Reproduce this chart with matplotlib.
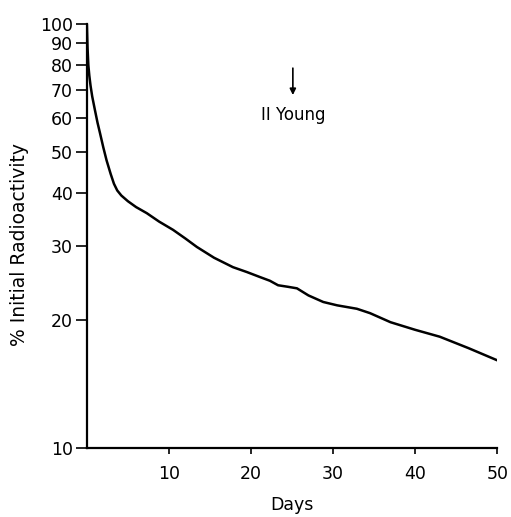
import matplotlib
matplotlib.use("Agg")
import matplotlib.pyplot as plt
from matplotlib.ticker import FixedLocator, NullLocator

# Decay of radioactivity over time
days = [0, 0.08, 0.18, 0.3, 0.45, 0.65, 0.98, 1.3, 1.6, 2.0, 2.4, 2.9,
        3.3, 3.7, 4.2, 5.0, 6.0, 7.3, 8.8, 10.5, 12.0, 13.4, 15.5, 17.8,
        19.5, 21.1, 22.3, 23.3, 24.5, 25.6, 27.0, 28.8, 30.5, 32.9, 34.5,
        37.0, 40.0, 43.0, 46.5, 50.0]
activity = [100, 88, 80, 75.5, 71.5, 67.5, 62.7, 58.5, 55.3, 51.2, 47.7, 44.3,
            42.0, 40.5, 39.4, 38.2, 37.0, 35.8, 34.2, 32.7, 31.2, 29.8, 28.1, 26.7,
            26.0, 25.3, 24.8, 24.2, 24.0, 23.8, 22.9, 22.1, 21.7, 21.3, 20.8,
            19.8, 19.0, 18.3, 17.2, 16.1]

y_ticks = [10, 20, 30, 40, 50, 60, 70, 80, 90, 100]
x_ticks = [10, 20, 30, 40, 50]
event_day = 25.1
event_label = "II Young"

fig = plt.figure(figsize=(5.11, 5.17), dpi=100)
ax = fig.add_axes([0.170, 0.1335, 0.803, 0.820])

ax.plot(days, activity, color="black", lw=1.8, solid_capstyle="round",
        solid_joinstyle="round")

ax.set_yscale("log")
ax.set_xlim(0, 50)
ax.set_ylim(10, 100)
ax.yaxis.set_major_locator(FixedLocator(y_ticks))
ax.yaxis.set_minor_locator(NullLocator())
ax.set_yticklabels([str(v) for v in y_ticks])
ax.set_xticks(x_ticks)
ax.set_xticklabels([str(v) for v in x_ticks])

for s in ["top", "right"]:
    ax.spines[s].set_visible(False)
for s in ["left", "bottom"]:
    ax.spines[s].set_linewidth(1.6)

ax.tick_params(axis="y", direction="out", length=8, width=1.2, labelsize=12.5, pad=2)
ax.tick_params(axis="x", direction="out", length=4, width=1.2, labelsize=12.5, pad=8)

fig.text(20 / 511, 1 - 245 / 517, "% Initial Radioactivity", rotation=90,
         ha="center", va="center", fontsize=13.5)
fig.text(292 / 511, 1 - 505 / 517, "Days", ha="center", va="center",
         fontsize=12.5)

ax.annotate("", xy=(event_day, 68.0), xytext=(event_day, 78.7),
            arrowprops=dict(arrowstyle="-|>", color="black", lw=1.2,
                            mutation_scale=9, shrinkA=0, shrinkB=0))
ax.text(event_day + 0.1, 60.9, event_label, ha="center", va="center", fontsize=12)

fig.savefig("out.png", dpi=100, facecolor="white")
